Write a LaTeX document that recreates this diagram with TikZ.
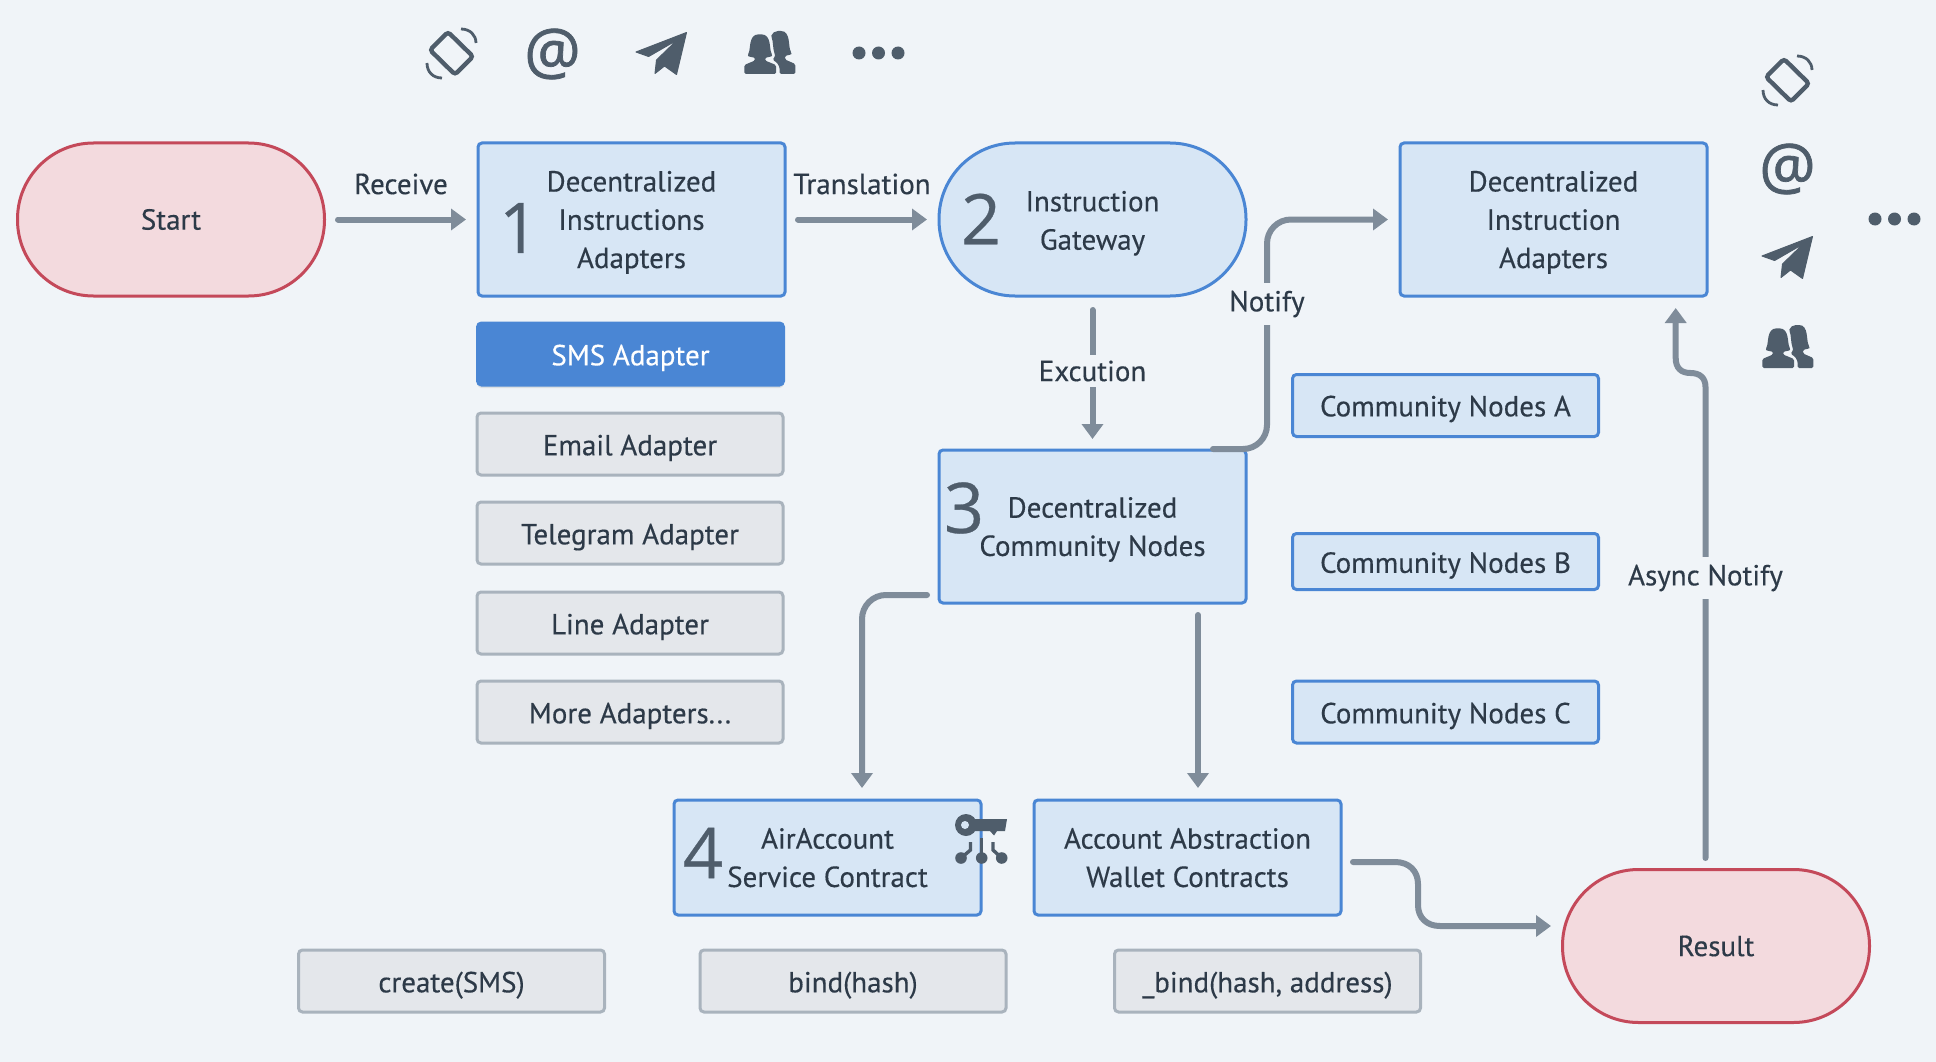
\documentclass[tikz,border=0pt]{standalone}
\usepackage{fontspec}
\setmainfont{PT Sans}[FakeBold=0.35]
\newfontfamily\iconfont{Open Sans}[FakeBold=1.2]
\newfontfamily\digitfont{Open Sans}[FakeBold=0.4]
\usetikzlibrary{arrows.meta,shadows,calc}
\definecolor{bgc}{HTML}{F0F4F8}
\definecolor{ink}{HTML}{2D3A48}
\definecolor{icon}{HTML}{4F5D6B}
\definecolor{conn}{HTML}{7F8C9A}
\definecolor{bluefill}{HTML}{D7E6F5}
\definecolor{blueline}{HTML}{4A86D4}
\definecolor{grayfill}{HTML}{E4E7EB}
\definecolor{grayline}{HTML}{A9B3BD}
\definecolor{redfill}{HTML}{F3DADE}
\definecolor{redline}{HTML}{C4495A}
\tikzset{
  txt/.style={font=\fontsize{29}{38.3}\selectfont,text=ink,align=center,inner sep=0pt},
  boxbase/.style={txt,rectangle,rounded corners=4pt,line width=3pt,outer sep=0pt,text depth=0pt},
  bluebox/.style={boxbase,fill=bluefill,draw=blueline},
  graybox/.style={boxbase,fill=grayfill,draw=grayline},
  smsbox/.style={boxbase,fill=blueline,draw=blueline,text=white,drop shadow={opacity=.18,shadow xshift=0pt,shadow yshift=-3pt}},
  bluepill/.style={txt,rectangle,rounded corners=76pt,line width=3pt,fill=bluefill,draw=blueline,outer sep=0pt},
  redpill/.style={txt,rectangle,rounded corners=76pt,line width=3pt,fill=redfill,draw=redline,outer sep=0pt},
  sz/.style 2 args={minimum width=#1 pt,minimum height=#2 pt},
  connector/.style={draw=conn,line width=6pt,line cap=round,rounded corners=0pt,-{Triangle[length=15pt,width=21pt]}},
  flow/.style={connector},
  clabel/.style={txt,fill=bgc,inner xsep=1pt,inner ysep=6pt},
  digit/.style={font=\digitfont\fontsize{70}{70}\selectfont,text=icon,inner sep=0pt},
  atsign/.style={font=\iconfont\fontsize{63}{63}\selectfont,text=icon,inner sep=0pt},
}
\newcommand{\dotsicon}[2]{%
  \fill[icon] (#1,#2) circle (6.5pt) ++(19.5,0) circle (6.5pt) ++(19.5,0) circle (6.5pt);}
\newcommand{\phoneicon}{%
  \draw[icon,line width=4.4pt,rounded corners=3pt] (448,32)--(473,56.5)--(455,74.5)--(430,50)--cycle;
  \draw[icon,line width=2.8pt] (461,29) .. controls (470,29) and (476,35) .. (476,43);
  \draw[icon,line width=2.8pt] (427,63) .. controls (427,72) and (433,78) .. (442,78);}
\newcommand{\planeicon}{%
  \fill[icon,draw=icon,line width=1pt,line join=round] (686.5,32.5)--(636,52)--(648.6,56.5)--(677.2,40)--(656.5,60)--(655,73.5)--(664.5,66)--(676.5,74.5)--cycle;}
\newcommand{\peopleicon}{%
  \fill[icon,rounded corners=1.5pt] (744.3,74)--(776,74)--(776,65)--(765,60.5)--(765,57.5) .. controls (769,57.5) and (772,56) .. (772.5,54.5) .. controls (769,50) and (772,34.5) .. (760,34.3) .. controls (748,34.5) and (751,50) .. (747.5,54.5) .. controls (748,56) and (751,57.5) .. (755,57.5) -- (755,60.5)--(744.3,65)--cycle;
  \fill[icon,rounded corners=1.5pt] (779.5,74)--(795.3,74)--(795.3,64)--(785,59.5)--(785,55.5) .. controls (789,55.5) and (791.5,54) .. (791.5,52.5) .. controls (788,47) and (791,31) .. (779.5,31) .. controls (775,31) and (772,33) .. (771,37) .. controls (773,40) and (773,50) .. (775,54) .. controls (775,56) and (774,58) .. (772.5,60) .. controls (777,62) and (779.5,66) .. (779.5,70) --cycle;}
\begin{document}
\begin{tikzpicture}[x=1pt,y=-1pt]
\useasboundingbox (0,0) rectangle (1936,1062);
\fill[bgc] (0,0) rectangle (1936,1062);
% main nodes
\node[redpill,sz={307}{153}] (start) at (171,219.5) {\raisebox{-3pt}{Start}};
\node[bluebox,sz={307}{153}] (b1) at (631.5,219.5) {Decentralized\\Instructions\\Adapters};
\node[bluepill,sz={307}{153}] (gw) at (1092.5,219.5) {\rule{0pt}{28pt}Instruction\\Gateway};
\node[bluebox,sz={307}{153}] (br) at (1553.5,219.5) {Decentralized\\Instruction\\Adapters};
\node[bluebox,sz={307}{153}] (b3) at (1092.5,526.5) {Decentralized\\Community Nodes};
\node[bluebox,sz={307}{115}] (b4) at (827.5,857.5) {AirAccount\\Service Contract};
\node[bluebox,sz={307}{115}] (aa) at (1187.5,857.5) {Account Abstraction\\Wallet Contracts};
\node[redpill,sz={307}{153}] (res) at (1716,946) {\raisebox{-3pt}{Result}};
% adapters
\node[smsbox,sz={306}{62}] (sms) at (630.5,354) {\raisebox{-2pt}{SMS Adapter}};
\node[graybox,sz={306}{62}] (email) at (630,444) {\raisebox{-2pt}{Email Adapter}};
\node[graybox,sz={306}{62}] (tele) at (630,533) {\raisebox{-2pt}{Telegram Adapter}};
\node[graybox,sz={306}{62}] (line) at (630,623) {\raisebox{-2pt}{Line Adapter}};
\node[graybox,sz={306}{62}] (more) at (630,712) {\raisebox{-2pt}{More Adapters...}};
% community
\node[bluebox,sz={306}{62}] (ca) at (1445.5,405.5) {\raisebox{-1pt}{Community Nodes A}};
\node[bluebox,sz={306}{56}] (cb) at (1445.5,561.5) {\raisebox{-2pt}{Community Nodes B}};
\node[bluebox,sz={306}{62}] (cc) at (1445.5,712) {\raisebox{-2pt}{Community Nodes C}};
% functions
\node[graybox,sz={306}{62}] (fc) at (451.5,981) {\raisebox{-2pt}{create(SMS)}};
\node[graybox,sz={306}{62}] (fb) at (853,981) {\raisebox{-2pt}{bind(hash)}};
\node[graybox,sz={306}{62}] (fu) at (1267.5,981) {\raisebox{-2pt}{\_bind(hash, address)}};
% digits
\node[digit] (d1) at (519,228) {1};
\node[digit] (d2) at (981,219) {2};
\node[digit] (d3) at (964,508) {3};
\node[digit] (d4) at (703,853) {4};
% connectors
\draw[flow,shorten <=13.5pt,shorten >=12pt] (start.east) -- (b1.west);
\draw[flow,shorten <=13pt,shorten >=12pt] (b1.east) -- (gw.west);
\node[txt] (lrec) at (401,184) {Receive};
\node[txt] (ltr) at (862,184) {Translation};
\draw[flow,shorten <=14pt,shorten >=11pt] (gw.south) -- node[clabel,yshift=2pt] (lex) {Excution} (b3.north);
\coordinate (nA) at (1213,449);
\coordinate (nB) at (1267,449);
\coordinate (nC) at (1267,219.5);
\coordinate (nD) at (1388,219.5);
\draw[flow,rounded corners=24pt] (nA) -- (nB) -- (nC) -- (nD);
\node[clabel,inner ysep=8pt] (lno) at (1267,304) {Notify};
\coordinate (aA) at (1705.5,858);
\coordinate (aB) at (1705.5,387);
\coordinate (aC) at (1675.7,358);
\coordinate (aD) at (1675.7,308);
\draw[flow] (aA) -- (aB) .. controls (1705.5,378) and (1700,373) .. (1690.5,373) .. controls (1681,373) and (1675.7,368) .. (aC) -- (aD);
\node[clabel,inner ysep=8pt] (las) at (1705.5,578) {Async Notify};
\coordinate (cA) at (927,595);
\coordinate (cB) at (862,595);
\coordinate (cC) at (862,788);
\draw[flow,rounded corners=24pt] (cA) -- (cB) -- (cC);
\coordinate (dA) at (1198,615);
\coordinate (dB) at (1198,788);
\draw[flow] (dA) -- (dB);
\coordinate (eA) at (1353,862);
\coordinate (eB) at (1551,926);
\draw[flow] (eA) -- (1395,862) .. controls (1409,862) and (1418,871) .. (1418,884) -- (1418,905) .. controls (1418,918) and (1427,926) .. (1440,926) -- (eB);
% top icons
\phoneicon
\node[atsign] (at1) at (552.5,54) {@};
\planeicon
\peopleicon
\dotsicon{859}{53}
% right icons
\begin{scope}[shift={(1336,27)}]\phoneicon\end{scope}
\node[atsign] (at2) at (1787.5,169) {@};
\begin{scope}[shift={(1126,204)}]\planeicon\end{scope}
\begin{scope}[shift={(1018,294)}]\peopleicon\end{scope}
\dotsicon{1875}{219}
% key icon
\fill[icon] (966,825) circle (11pt);
\fill[bluefill] (965,825) circle (4pt);
\fill[icon] (975,819)--(1007,819)--(1005,831)--(997,831)--(994,835.5)--(990,831)--(975,831)--cycle;
\draw[icon,line width=3.4pt] (970.5,842)--(970.5,850)--(961,858);
\draw[icon,line width=3.4pt] (981.7,838)--(981.7,858);
\draw[icon,line width=3.4pt] (993,842)--(993,850)--(1001.7,858);
\fill[icon] (961,858) circle (5.8pt) (981.7,858) circle (5.8pt) (1001.7,858) circle (5.8pt);
\end{tikzpicture}
\end{document}
